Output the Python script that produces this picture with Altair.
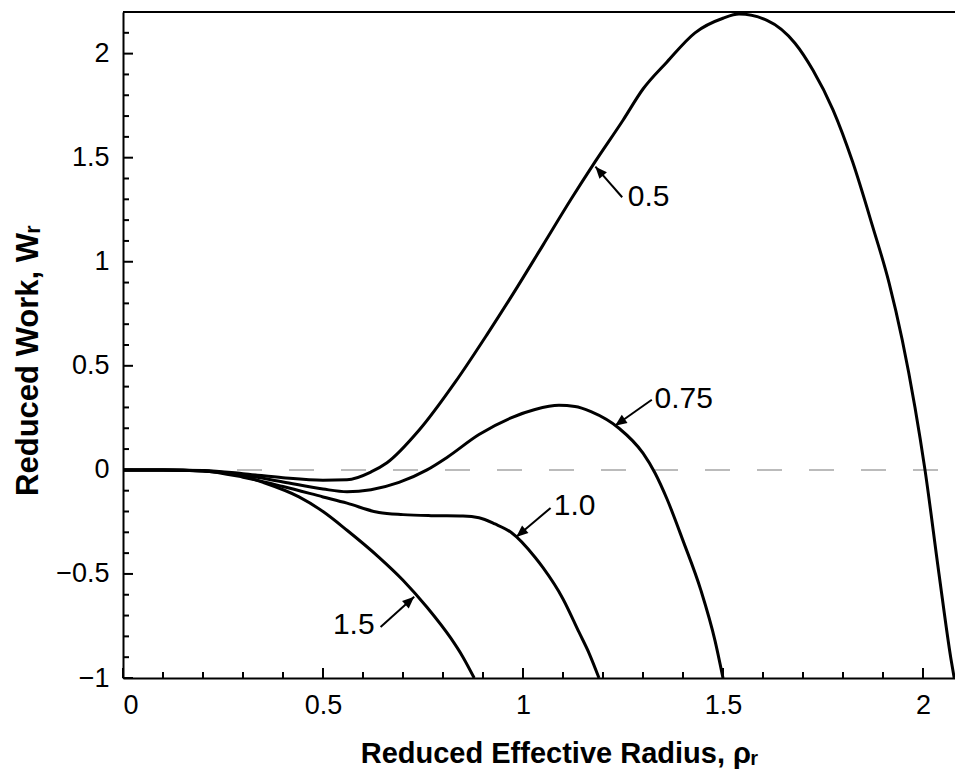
import math
import altair as alt
import pandas as pd

# ---------------- data ----------------
series_names = ["0.5", "0.75", "1.0", "1.5"]

x_05 = [0, 0.1, 0.2, 0.3, 0.4, 0.5, 0.56, 0.62, 0.66, 0.74, 0.83, 0.91, 0.97, 1.05, 1.12,
        1.18, 1.25, 1.30, 1.36, 1.43, 1.50, 1.54, 1.61, 1.68, 1.725, 1.775, 1.824, 1.874,
        1.915, 1.948, 1.98, 2.005, 2.04, 2.07, 2.078]
y_05 = [0, 0, -0.003, -0.018, -0.038, -0.05, -0.048, -0.01, 0.034, 0.19, 0.42, 0.65, 0.83,
        1.08, 1.30, 1.48, 1.68, 1.83, 1.96, 2.10, 2.17, 2.19, 2.16, 2.05, 1.92, 1.73, 1.48,
        1.17, 0.90, 0.625, 0.30, 0.0, -0.5, -0.91, -1.0]

x_075 = [0, 0.1, 0.2, 0.3, 0.4, 0.5, 0.56, 0.62, 0.69, 0.76, 0.81, 0.89, 0.97, 1.03, 1.09,
         1.13, 1.17, 1.24, 1.30, 1.33, 1.36, 1.40, 1.445, 1.48, 1.50]
y_075 = [0, 0, -0.004, -0.025, -0.058, -0.092, -0.105, -0.095, -0.06, 0.0, 0.06, 0.17, 0.25,
         0.29, 0.31, 0.305, 0.28, 0.20, 0.08, -0.015, -0.14, -0.34, -0.58, -0.82, -1.0]

x_10 = [0, 0.1, 0.2, 0.3, 0.4, 0.5, 0.56, 0.64, 0.70, 0.77, 0.85, 0.89, 0.93, 0.97, 1.03,
        1.05, 1.10, 1.14, 1.165, 1.19]
y_10 = [0, 0, -0.005, -0.035, -0.08, -0.13, -0.16, -0.205, -0.215, -0.22, -0.222, -0.23,
        -0.26, -0.30, -0.42, -0.47, -0.62, -0.78, -0.88, -1.0]

x_15 = [0, 0.1, 0.2, 0.3, 0.35, 0.44, 0.5, 0.56, 0.64, 0.70, 0.76, 0.82, 0.85, 0.878]
y_15 = [0, 0, -0.006, -0.03, -0.06, -0.13, -0.2, -0.29, -0.42, -0.53, -0.66, -0.81, -0.90,
        -1.0]

arrow_labels = ["0.5", "0.75", "1.0", "1.5"]
arrow_tail_x = [1.248, 1.322, 1.069, 0.644]
arrow_tail_y = [1.31, 0.337, -0.183, -0.755]
arrow_tip_x = [1.181, 1.230, 0.983, 0.728]
arrow_tip_y = [1.457, 0.212, -0.322, -0.61]
label_x = [1.262, 1.329, 1.077, 0.629]
label_y = [1.31, 0.341, -0.173, -0.745]
label_side = ["left", "left", "left", "right"]

x_major_ticks = [0, 0.5, 1.0, 1.5, 2.0]
x_minor_ticks = [0.1, 0.2, 0.3, 0.4, 0.6, 0.7, 0.8, 0.9, 1.1, 1.2, 1.3, 1.4,
                 1.6, 1.7, 1.8, 1.9]
y_major_ticks = [-1.0, -0.5, 0, 0.5, 1.0, 1.5, 2.0]
y_minor_ticks = [-0.9, -0.8, -0.7, -0.6, -0.4, -0.3, -0.2, -0.1, 0.1, 0.2, 0.3, 0.4,
                 0.6, 0.7, 0.8, 0.9, 1.1, 1.2, 1.3, 1.4, 1.6, 1.7, 1.8, 1.9, 2.1]

x_domain = [0, 2.08]
y_domain = [-1, 2.2]

# ---------------- build tables ----------------
W, H = 832, 666
FONT = "Liberation Sans, Arial, DejaVu Sans"

rows = []
for name, xs_, ys_ in zip(series_names, [x_05, x_075, x_10, x_15], [y_05, y_075, y_10, y_15]):
    for i, (a, b) in enumerate(zip(xs_, ys_)):
        rows.append({"series": name, "i": i, "x": a, "y": b})
curves_df = pd.DataFrame(rows)

px_per_x = W / (x_domain[1] - x_domain[0])
px_per_y = H / (y_domain[1] - y_domain[0])
angles = []
for tx, ty, hx, hy in zip(arrow_tail_x, arrow_tail_y, arrow_tip_x, arrow_tip_y):
    dx = (hx - tx) * px_per_x
    dy = -(hy - ty) * px_per_y
    angles.append(math.degrees(math.atan2(dx, -dy)) % 360)

arrows_df = pd.DataFrame({
    "label": arrow_labels, "x": arrow_tail_x, "y": arrow_tail_y,
    "x2": arrow_tip_x, "y2": arrow_tip_y, "angle": angles,
    "lx": label_x, "ly": label_y, "side": label_side,
})

xs = alt.Scale(domain=x_domain, nice=False, zero=False)
ys = alt.Scale(domain=y_domain, nice=False, zero=False)

x_axis = alt.Axis(
    values=x_major_ticks, format="~g", grid=False, ticks=False, tickSize=0,
    domainColor="black", domainWidth=2, labelFont=FONT, labelFontSize=27,
    labelColor="black", labelPadding=14,
    title="Reduced Effective Radius, ρᵣ", titleFont=FONT, titleFontSize=29,
    titleFontWeight="bold", titleColor="black", titleX=436, titleY=84,
    titleBaseline="alphabetic", titleAlign="center",
)
y_axis = alt.Axis(
    values=y_major_ticks, format="~g", grid=False, ticks=False, tickSize=0,
    domainColor="black", domainWidth=2, labelFont=FONT, labelFontSize=27,
    labelColor="black", labelPadding=14,
    title="Reduced Work, Wᵣ", titleFont=FONT, titleFontSize=31,
    titleFontWeight="bold", titleColor="black", titleX=-86, titleY=348,
    titleBaseline="alphabetic", titleAlign="center", titleAngle=270,
)


def X(field):
    return alt.X(field, type="quantitative", scale=xs, axis=x_axis)


def Y(field):
    return alt.Y(field, type="quantitative", scale=ys, axis=y_axis)


curves = alt.Chart(curves_df).mark_line(
    color="black", strokeWidth=3, clip=True, interpolate="monotone"
).encode(x=X("x"), y=Y("y"), detail="series:N", order="i:Q")

zero_line = alt.Chart(pd.DataFrame({"y": [0]})).mark_rule(
    color="#bbbbbb", strokeWidth=2, strokeDash=[25, 27], strokeDashOffset=35
).encode(y=Y("y"))

top_border = alt.Chart(pd.DataFrame({"y": [y_domain[1]]})).mark_rule(
    color="black", strokeWidth=2
).encode(y=Y("y"))


def x_ticks(vals, length):
    return alt.Chart(pd.DataFrame({"x": vals})).mark_rule(
        color="black", strokeWidth=2
    ).encode(x=X("x"), y=alt.value(H), y2=alt.value(H - length))


def y_ticks(vals, length):
    return alt.Chart(pd.DataFrame({"y": vals})).mark_rule(
        color="black", strokeWidth=2
    ).encode(y=Y("y"), x=alt.value(0), x2=alt.value(length))


shafts = alt.Chart(arrows_df).mark_rule(color="black", strokeWidth=2).encode(
    x=X("x"), y=Y("y"), x2="x2:Q", y2="y2:Q",
)

heads = alt.Chart(arrows_df).mark_point(
    shape="M0,0 L-0.42,1 L0.42,1 Z", filled=True, color="black", opacity=1,
    size=560, strokeWidth=0,
).encode(x=X("x2"), y=Y("y2"), angle=alt.Angle("angle:Q", scale=None))

text_left = alt.Chart(arrows_df).transform_filter(alt.datum.side == "left").mark_text(
    align="left", baseline="middle", font=FONT, fontSize=30, color="black"
).encode(x=X("lx"), y=Y("ly"), text="label:N")

text_right = alt.Chart(arrows_df).transform_filter(alt.datum.side == "right").mark_text(
    align="right", baseline="middle", font=FONT, fontSize=30, color="black"
).encode(x=X("lx"), y=Y("ly"), text="label:N")

chart = alt.layer(
    zero_line, curves, top_border,
    x_ticks(x_major_ticks, 10), x_ticks(x_minor_ticks, 6),
    y_ticks(y_major_ticks, 10), y_ticks(y_minor_ticks, 6),
    shafts, heads, text_left, text_right,
).properties(
    width=W, height=H,
    autosize=alt.AutoSizeParams(type="none"),
    padding={"left": 115, "top": 4, "right": 0, "bottom": 92},
).configure_view(stroke=None).configure(background="white")

chart.save("out.html", embed_options={"renderer": "svg", "actions": False})
